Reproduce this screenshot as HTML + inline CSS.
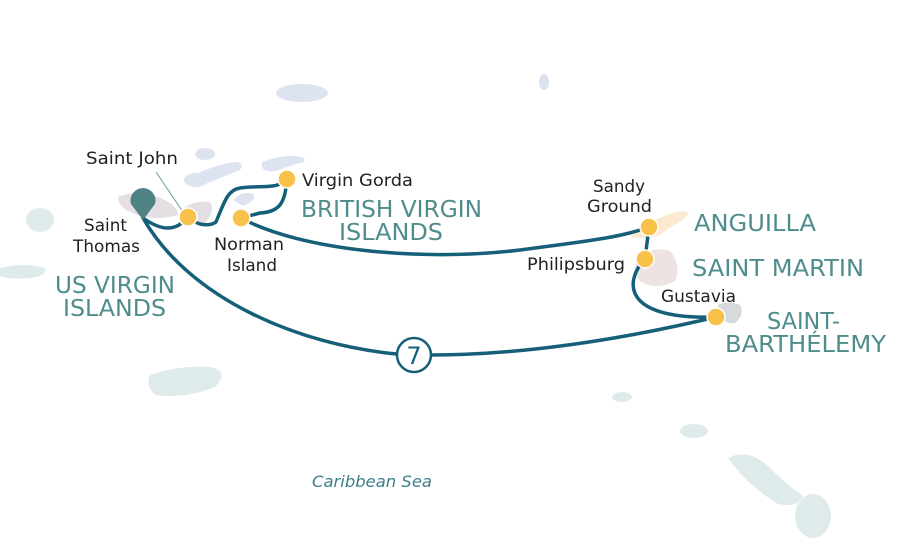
<!DOCTYPE html>
<html><head><meta charset="utf-8"><style>
html,body{margin:0;padding:0;background:#fff;}
svg{display:block;}
.lb{font-family:"DejaVu Sans","Liberation Sans",sans-serif;font-size:16.5px;fill:#222;}
.big{font-family:"DejaVu Sans","Liberation Sans",sans-serif;font-size:23px;fill:#4f8c8c;}
</style></head><body>
<svg width="907" height="558" viewBox="0 0 907 558" xmlns="http://www.w3.org/2000/svg">
<g fill="#dde3f1">
<ellipse cx="302" cy="93" rx="26" ry="9"/>
<ellipse cx="544" cy="82" rx="5" ry="8"/>
<ellipse cx="205" cy="154" rx="10" ry="6"/>
<path d="M200 172 q20-8 35-10 q10 0 5 8 q-15 6-35 14z"/>
<ellipse cx="196" cy="180" rx="12" ry="7"/>
<path d="M262 162 q15-6 30-6 q15 0 12 6 q-15 4-25 8 q-10 4-17-2z"/>
<path d="M233 200 q10-10 20-6 q5 6-10 12z"/>
</g>
<g fill="#dfebeb">
<ellipse cx="40" cy="220" rx="14" ry="12"/>
<path d="M0 268 q25-6 45 0 q3 8-15 10 q-20 2-30-2z"/>
<path d="M150 375 q30-10 60-8 q20 4 5 20 q-30 12-60 8 q-10-10-5-20z"/>
<ellipse cx="622" cy="397" rx="10" ry="5"/>
<ellipse cx="694" cy="431" rx="14" ry="7"/>
<path d="M728 458 q20-10 40 8 q15 16 35 30 q-5 12-25 8 q-30-18-50-46z"/>
<ellipse cx="813" cy="516" rx="18" ry="22"/>
</g>
<path d="M118 197 q20-8 40 0 q20 8 20 18 q-20 6-40 0 q-20-6-20-18z" fill="#e5dee2"/>
<path d="M182 210 q10-10 28-8 q6 10-6 22 q-15 4-22-14z" fill="#e5dee2"/>
<path d="M632 235 q20-15 35-20 q15-6 22-2 q-8 10-22 16 q-10 12-35 8z" fill="#fcead0"/>
<path d="M640 256 q12-10 30-5 q12 15 5 30 q-20 10-35 0 q-10-12 0-25z" fill="#ede4e2"/>
<path d="M718 305 q10-5 22 0 q5 10-5 18 q-15 2-17-18z" fill="#d6dadc"/>
<g fill="none" stroke="#165f78" stroke-width="3.5" stroke-linecap="round">
<path d="M143 218 C160 230 175 233 188 217"/>
<path d="M188 217 C200 228 212 225 216 222 C225 200 228 190 240 188 C260 185 278 190 287 179"/>
<path d="M287 179 C285 200 282 212 260 213 L241 218"/>
<path d="M241 218 C300 250 420 262 520 250 C580 242 620 238 649 227"/>
<path d="M649 227 L645 259"/>
<path d="M645 259 C625 280 620 320 716 317"/>
<path d="M716 317 C620 340 520 355 431 355"/>
<path d="M397 354 C300 345 190 300 143 218"/>
</g>
<circle cx="414" cy="355" r="17" fill="#fff" stroke="#165f78" stroke-width="2.5"/>
<text x="414" y="364" text-anchor="middle" font-family="DejaVu Sans,sans-serif" font-size="24" fill="#165f78">7</text>
<path d="M143 220 L131 204 A12.5 12.5 0 1 1 155 204 Z" fill="#4f8282"/>
<line x1="156" y1="172" x2="183" y2="212" stroke="#6a9a9a" stroke-width="1"/>
<g fill="#f8c14a" stroke="#fff" stroke-width="1.5">
<circle cx="188" cy="217" r="9"/><circle cx="241" cy="218" r="9"/><circle cx="287" cy="179" r="9"/>
<circle cx="649" cy="227" r="9"/><circle cx="645" cy="259" r="9"/><circle cx="716" cy="317" r="9"/>
</g>
<text class="lb" x="86" y="164" textLength="92" lengthAdjust="spacingAndGlyphs">Saint John</text>
<text class="lb" x="84" y="231" textLength="43" lengthAdjust="spacingAndGlyphs">Saint</text>
<text class="lb" x="73" y="252" textLength="67" lengthAdjust="spacingAndGlyphs">Thomas</text>
<text class="lb" x="302" y="186" textLength="111" lengthAdjust="spacingAndGlyphs">Virgin Gorda</text>
<text class="lb" x="214" y="250" textLength="70" lengthAdjust="spacingAndGlyphs">Norman</text>
<text class="lb" x="227" y="271" textLength="50" lengthAdjust="spacingAndGlyphs">Island</text>
<text class="lb" x="593" y="192" textLength="52" lengthAdjust="spacingAndGlyphs">Sandy</text>
<text class="lb" x="587" y="212" textLength="65" lengthAdjust="spacingAndGlyphs">Ground</text>
<text class="lb" x="527" y="270" textLength="98" lengthAdjust="spacingAndGlyphs">Philipsburg</text>
<text class="lb" x="661" y="302" textLength="75" lengthAdjust="spacingAndGlyphs">Gustavia</text>
<text class="big" x="55" y="293" textLength="120" lengthAdjust="spacingAndGlyphs">US VIRGIN</text>
<text class="big" x="63" y="316" textLength="103" lengthAdjust="spacingAndGlyphs">ISLANDS</text>
<text class="big" x="301" y="217" textLength="181" lengthAdjust="spacingAndGlyphs">BRITISH VIRGIN</text>
<text class="big" x="339" y="240" textLength="104" lengthAdjust="spacingAndGlyphs">ISLANDS</text>
<text class="big" x="694" y="231" textLength="122" lengthAdjust="spacingAndGlyphs">ANGUILLA</text>
<text class="big" x="692" y="276" textLength="172" lengthAdjust="spacingAndGlyphs">SAINT MARTIN</text>
<text class="big" x="767" y="329" textLength="73" lengthAdjust="spacingAndGlyphs">SAINT-</text>
<text class="big" x="725" y="352" textLength="161" lengthAdjust="spacingAndGlyphs">BARTHÉLEMY</text>
<text x="312" y="487" font-family="DejaVu Sans,Liberation Sans,sans-serif" font-size="16" font-style="italic" fill="#3f7f8c" textLength="120" lengthAdjust="spacingAndGlyphs">Caribbean Sea</text>
</svg>
</body></html>
